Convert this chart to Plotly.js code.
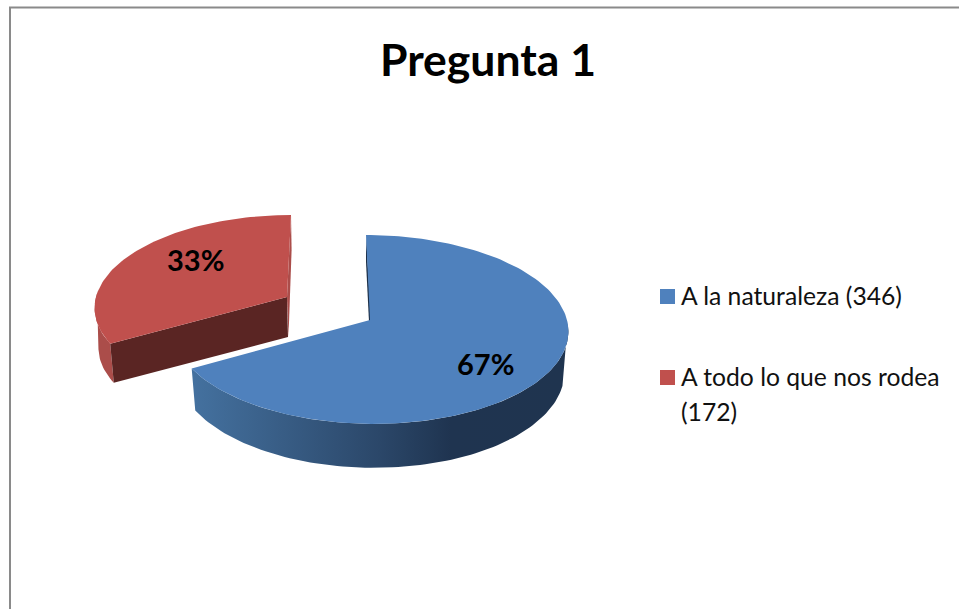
<!DOCTYPE html>
<html>
<head>
<meta charset="utf-8">
<script src="https://cdn.plot.ly/plotly-3.0.1.min.js"></script>
<style>html,body{margin:0;padding:0;background:#fff;overflow:hidden}#chart{width:959px;height:609px}</style>
</head>
<body>
<div id="chart"></div>
<script>
const chartTitle = 'Pregunta 1';
const categories = ['A la naturaleza', 'A todo lo que nos rodea'];
const values = [346, 172];
const topColors = ['#4f81bd', '#c0504d'];

// Projection of the tilted pie onto the axes (axes are in pixel-sized units)
const bluePose = {ax: 370, ay: 320, rx: 197, ry: 93.5, k: 0.1, skew: 4, depth: 40, depthSlope: 6};
const redPose  = {ax: 287, ay: 297, rx: 191, ry: 90.2, k: 0.1, skew: -4, depth: 40, depthSlope: 0};
const rimScale = 0.98;

const total = values.reduce((a, b) => a + b, 0);
const splitDeg = values[0] / total * 360;

function rim(p, deg, lower) {
  const t = deg * Math.PI / 180, u = Math.sin(t), v = -Math.cos(t);
  const d = 1 - p.k * v, s = lower ? rimScale : 1;
  return [p.ax + s * (p.rx * u / d + p.skew * v),
          p.ay + s * p.ry * v / d + (lower ? p.depth + p.depthSlope * v : 0)];
}
function arc(p, from, to, lower) {
  const n = Math.max(2, Math.ceil(Math.abs(to - from) / 1.5)), out = [];
  for (let i = 0; i <= n; i++) out.push(rim(p, from + (to - from) * i / n, lower));
  return out;
}
function poly(pts, name, color, gradient) {
  const closed = pts.concat([pts[0]]);
  const tr = {
    type: 'scatter', mode: 'lines', name,
    x: closed.map(q => q[0]), y: closed.map(q => q[1]),
    fill: 'toself', fillcolor: color, line: {width: 0},
    hoverinfo: 'skip', showlegend: false
  };
  if (gradient) tr.fillgradient = gradient;
  return tr;
}

const apexB = [bluePose.ax, bluePose.ay], apexR = [redPose.ax, redPose.ay];
const apexRLow = [redPose.ax + 1, redPose.ay + redPose.depth];
const cornerRTop = rim(redPose, splitDeg, false), cornerRLow = rim(redPose, splitDeg, true);
const startB = rim(bluePose, 0, false), startR = rim(redPose, 360, false);

const traces = [
  // red slice
  poly(arc(redPose, splitDeg, 272, false).concat(arc(redPose, 262, splitDeg, true)), categories[1] + ' borde', '#ab4d4a'),
  poly([startR, [startR[0] + 0.6, startR[1] + 35], [apexRLow[0] + 0.5, apexRLow[1]], apexR], categories[1] + ' lado', '#ab4d4a'),
  poly([apexR, cornerRTop, cornerRLow, apexRLow], categories[1] + ' cara', '#5a2523'),
  poly([apexR].concat(arc(redPose, splitDeg, 360, false)), categories[1], topColors[1]),
  // blue slice
  poly([startB, [startB[0], startB[1] + 27], [apexB[0] - 1, apexB[1] + 2], [apexB[0] + 1, apexB[1]]], categories[0] + ' lado', '#1c2f47'),
  poly(arc(bluePose, 92, splitDeg, false).concat(arc(bluePose, splitDeg, 105, true)), categories[0] + ' borde', '#2b4769', {
    type: 'horizontal', start: 193, stop: 567,
    colorscale: [[0, '#44719f'], [0.5, '#2b4769'], [0.69, '#1f3450'], [1, '#1f344f']]
  }),
  poly([apexB].concat(arc(bluePose, 0, splitDeg, false)), categories[0], topColors[0])
];

const percentLabels = values.map(v => Math.round(v / total * 100) + '%');
const percentPos = [[485, 363], [195, 259]];
const legendText = [
  categories[0] + ' (' + values[0] + ')',
  categories[1],
  '(' + values[1] + ')'
];
const legendSwatchY = [296.5, 377.5];
const legendTextTop = [280, 361, 396];
const fontFamily = 'Lato, Carlito, "Open Sans", sans-serif';

const annotations = [];
percentLabels.forEach((t, i) => annotations.push({
  text: '<b>' + t + '</b>', x: percentPos[i][0], y: percentPos[i][1], xref: 'x', yref: 'y',
  showarrow: false, xanchor: 'center', yanchor: 'middle',
  font: {family: fontFamily, size: 29, color: '#000'}
}));
legendText.forEach((t, i) => annotations.push({
  text: t, x: 680, y: legendTextTop[i], xref: 'x', yref: 'y', showarrow: false,
  xanchor: 'left', yanchor: 'top', align: 'left', borderpad: 0,
  font: {family: fontFamily, size: 24.7, color: '#111'}
}));

const shapes = [
  {type: 'line', xref: 'x', yref: 'y', x0: 10, x1: 10, y0: 7, y1: 609, line: {color: '#8a8a8a', width: 2}},
  {type: 'line', xref: 'x', yref: 'y', x0: 9, x1: 959, y0: 7.5, y1: 7.5, line: {color: '#8a8a8a', width: 2}}
];
legendSwatchY.forEach((y, i) => shapes.push({
  type: 'rect', xref: 'x', yref: 'y', x0: 660, x1: 675, y0: y - 7.5, y1: y + 7.5,
  fillcolor: topColors[i], line: {width: 0}
}));

const hidden = {visible: false, fixedrange: true};
Plotly.newPlot('chart', traces, {
  width: 959, height: 609,
  margin: {l: 0, r: 0, t: 0, b: 0, pad: 0},
  paper_bgcolor: '#fff', plot_bgcolor: '#fff',
  title: {text: '<b>' + chartTitle + '</b>', x: 488 / 959, y: 1 - 60 / 609, xanchor: 'center', yanchor: 'middle',
          font: {family: fontFamily, size: 44.5, color: '#000'}},
  xaxis: Object.assign({range: [0, 959]}, hidden),
  yaxis: Object.assign({range: [609, 0]}, hidden),
  annotations, shapes, showlegend: false
}, {displayModeBar: false, staticPlot: true});
</script>
</body>
</html>
